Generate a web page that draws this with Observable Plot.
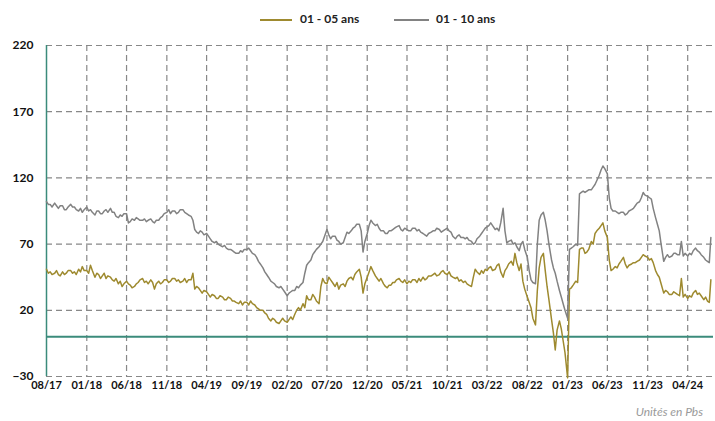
<!DOCTYPE html>
<html>
<head>
<meta charset="utf-8">
<script src="https://cdn.jsdelivr.net/npm/d3@7"></script>
<script src="https://cdn.jsdelivr.net/npm/@observablehq/plot@0.6"></script>
<style>
  html, body { margin: 0; padding: 0; background: #fff; }
  body { width: 715px; height: 421px; overflow: hidden; font-family: Lato, "Open Sans", sans-serif; }
  #legend { position: relative; height: 34px; }
  .sw { position: absolute; top: 19px; height: 0; border-top: 2px solid; }
  .lt { position: absolute; top: 11px; font-size: 12px; font-weight: bold; color: #222; white-space: nowrap; }
  #caption { position: relative; height: 21px; }
  #caption span { position: absolute; right: 12px; top: 4px; font-size: 12px; font-style: italic; color: #9a9a9a; }
</style>
</head>
<body>
<div id="legend"></div>
<div id="chart"></div>
<div id="caption"><span>Unités en Pbs</span></div>
<script>
const seriesNames = ["01 - 05 ans", "01 - 10 ans"];
const seriesColors = ["#9e8a2f", "#828282"];

// observation months (values on the 1st, 8th, 15th and 22nd), plus a last point on 2024-06-28
const months = [
"2017-08","2017-09","2017-10","2017-11","2017-12",
"2018-01","2018-02","2018-03","2018-04","2018-05","2018-06","2018-07","2018-08","2018-09","2018-10","2018-11","2018-12",
"2019-01","2019-02","2019-03","2019-04","2019-05","2019-06","2019-07","2019-08","2019-09","2019-10","2019-11","2019-12",
"2020-01","2020-02","2020-03","2020-04","2020-05","2020-06","2020-07","2020-08","2020-09","2020-10","2020-11","2020-12",
"2021-01","2021-02","2021-03","2021-04","2021-05","2021-06","2021-07","2021-08","2021-09","2021-10","2021-11","2021-12",
"2022-01","2022-02","2022-03","2022-04","2022-05","2022-06","2022-07","2022-08","2022-09","2022-10","2022-11","2022-12",
"2023-01","2023-02","2023-03","2023-04","2023-05","2023-06","2023-07","2023-08","2023-09","2023-10","2023-11","2023-12",
"2024-01","2024-02","2024-03","2024-04","2024-05","2024-06"
];
const days = ["01", "08", "15", "22"];
const lastDate = "2024-06-28";

const spread0105 = [
51,48,49,47, 48,50,47,46, 49,47,48,50, 50,48,49,47, 51,49,53,50,
50,48,54,50, 45,48,47,44, 46,48,44,46, 45,43,42,44, 40,42,38,40, 42,40,39,37, 38,40,41,43, 44,41,42,40, 43,41,36,40, 42,40,41,43, 43,41,42,44, 44,42,43,41,
42,44,41,43, 43,48,36,38, 37,35,33,35, 34,32,30,32, 31,29,29,31, 30,28,28,30, 29,27,27,26, 25,27,24,26, 26,24,27,25, 24,22,21,20, 20,18,17,14, 12,14,13,11,
10,12,14,12, 11,13,15,13, 17,20,22,20, 25,22,31,28, 28,32,30,27, 25,38,44,41, 40,45,43,41, 38,41,36,39, 40,38,42,44, 45,43,47,49, 51,45,33,40, 45,49,53,50,
46,44,42,44, 40,38,37,39, 39,41,41,43, 44,42,41,43, 40,42,41,43, 43,41,44,42, 45,43,44,46, 46,47,48,46, 47,49,50,48, 47,49,46,45, 44,45,42,43, 41,42,40,39,
38,45,51,49, 47,50,48,51, 50,52,53,50, 51,54,55,49, 45,50,52,55, 57,54,63,56, 50,55,42,36, 30,26,22,14, 9,35,52,60, 63,50,38,28, 13,3,-10,5, 12,6,-3,-12,
-31,36,37,39, 42,41,66,67, 67,63,64,66, 72,70,78,80, 82,84,86,80, 75,58,50,51, 53,52,55,57, 60,55,52,54, 55,56,56,57, 58,60,62,61, 60,58,59,56, 50,47,45,40,
33,35,34,32, 32,34,33,32, 31,44,30,32, 29,31,30,33, 35,32,33,31, 28,30,27,26,
43
];

const spread0110 = [
102,100,100,98, 101,99,97,99, 99,96,96,98, 100,98,98,96, 95,97,94,96,
98,95,96,94, 92,95,95,93, 93,95,96,94, 97,94,94,91, 90,92,91,93, 93,86,87,89, 88,90,89,88, 88,89,87,88, 89,87,86,88, 88,90,91,93, 94,96,93,95, 95,93,94,96,
96,94,93,92, 91,88,81,79, 78,80,79,77, 78,76,74,72, 71,72,70,69, 68,69,67,66, 66,65,64,63, 63,65,64,66, 66,67,65,63, 62,60,57,55, 52,49,47,45, 42,41,40,38,
37,38,36,34, 31,33,34,35, 35,38,37,39, 41,48,54,56, 58,62,64,66, 68,70,72,76, 81,77,74,76, 76,73,72,70, 71,75,79,78, 80,82,83,85, 85,80,64,72, 78,84,88,86,
84,85,82,80, 80,78,78,80, 80,81,82,83, 84,81,80,82, 81,80,80,82, 82,80,81,79, 78,77,76,78, 79,80,80,82, 81,79,80,81, 82,80,79,76, 74,76,77,75, 75,74,75,73,
72,70,71,74, 76,78,80,82, 83,84,86,84, 81,82,80,86, 97,80,71,72, 73,70,71,68, 65,70,72,66, 60,50,43,41, 40,70,88,92, 94,88,80,70, 58,52,48,42, 35,30,25,20,
14,66,67,68, 70,69,108,109, 110,109,110,111, 111,113,115,118, 122,126,129,127, 123,105,97,95, 95,94,93,94, 94,92,93,95, 96,97,99,101, 102,105,109,107, 106,105,104,97, 90,85,80,70,
57,60,62,60, 61,63,63,62, 62,72,61,63, 61,63,62,65, 67,65,64,62, 60,58,57,56,
75
];

const xTickLabels = ["2017-08-01","2018-01-01","2018-06-01","2018-11-01","2019-04-01","2019-09-01","2020-02-01","2020-07-01","2020-12-01","2021-05-01","2021-10-01","2022-03-01","2022-08-01","2023-01-01","2023-06-01","2023-11-01","2024-04-01"];
const yTicks = [-30, 20, 70, 120, 170, 220];

const parse = d3.utcParse("%Y-%m-%d");
const dates = months.flatMap(m => days.map(d => `${m}-${d}`)).concat([lastDate]).map(parse);
const xTicks = xTickLabels.map(parse);
const xDomain = [parse("2017-08-01"), parse("2024-07-08")];

const rows = [];
dates.forEach((d, i) => rows.push({date: d, value: spread0105[i], series: seriesNames[0]}));
dates.forEach((d, i) => rows.push({date: d, value: spread0110[i], series: seriesNames[1]}));

// legend
const legend = document.getElementById("legend");
const legendPos = [{sw: 260, w: 32, tx: 300}, {sw: 394, w: 35, tx: 436}];
seriesNames.forEach((n, i) => {
  const s = document.createElement("div");
  s.className = "sw";
  s.style.left = legendPos[i].sw + "px";
  s.style.width = legendPos[i].w + "px";
  s.style.borderTopColor = seriesColors[i];
  legend.appendChild(s);
  const t = document.createElement("div");
  t.className = "lt";
  t.style.left = legendPos[i].tx + "px";
  t.textContent = n;
  legend.appendChild(t);
});

const green = "#3b8b7b";
const gridStyle = {stroke: "#888888", strokeOpacity: 1, strokeWidth: 1.2, strokeDasharray: "6,4"};

const chart = Plot.plot({
  width: 715,
  height: 366,
  marginTop: 11,
  marginLeft: 46,
  marginRight: 2,
  marginBottom: 24,
  style: {fontFamily: "Lato, 'Open Sans', sans-serif", fontWeight: "bold", fontSize: "12px", color: "#111", background: "#fff"},
  x: {type: "utc", domain: xDomain},
  y: {domain: [-30, 220]},
  color: {domain: seriesNames, range: seriesColors},
  marks: [
    Plot.gridX(xTicks.slice(1), gridStyle),
    Plot.gridY(yTicks, gridStyle),
    Plot.ruleY([0], {stroke: green, strokeWidth: 2}),
    Plot.ruleX([xDomain[0]], {stroke: green, strokeWidth: 1.5}),
    Plot.line(rows, {x: "date", y: "value", z: "series", stroke: "series", strokeWidth: 1.5}),
    Plot.axisY(yTicks, {tickSize: 0, tickPadding: 13, label: null, fontSize: 12, fontWeight: "bold"}),
    Plot.axisX(xTicks, {tickSize: 0, tickPadding: 5, label: null, tickFormat: d3.utcFormat("%m/%y"), fontSize: 11, fontWeight: "bold"})
  ]
});
document.getElementById("chart").appendChild(chart);
</script>
</body>
</html>
